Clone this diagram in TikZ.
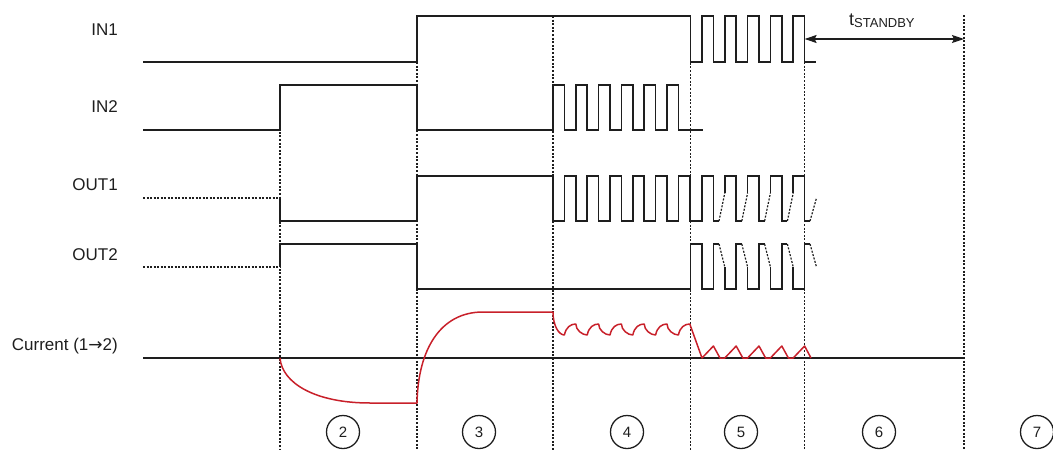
\documentclass[tikz,border=0pt]{standalone}
\usepackage{fontspec}
\setmainfont{Liberation Sans}
\newfontfamily\dejavu{DejaVu Sans}
\usetikzlibrary{arrows.meta}
\definecolor{sigc}{RGB}{30,30,30}
\definecolor{curc}{RGB}{200,32,42}
\begin{document}
\begin{tikzpicture}[x=1pt,y=-1pt,
  sig/.style={draw=sigc,line width=1.5pt,line join=miter},
  flo/.style={draw=sigc,line width=1.2pt,dash pattern=on 2pt off 1.5pt},
  guide/.style={draw=sigc,line width=1.1pt,dash pattern=on 2pt off 1.6pt},
  cur/.style={draw=curc,line width=1.5pt,line join=round},
  base/.style={draw=sigc,line width=1.8pt},
  lab/.style={anchor=east,font=\fontsize{17}{20}\selectfont,text=sigc,inner sep=0pt},
  phase/.style={circle,draw=sigc,line width=1.3pt,minimum size=33pt,inner sep=0pt,font=\fontsize{15}{17}\selectfont,text=sigc},
  dimarrow/.style={draw=sigc,line width=1.3pt,{Stealth[length=12pt,width=8pt,inset=2pt]}-{Stealth[length=12pt,width=8pt,inset=2pt]}}]
\useasboundingbox (0,0) rectangle (1053,450);

% phase guide lines
\foreach \x/\y in {280/85,417/62,553/16,690.5/16,804.6/62,964/15}
  \draw[guide] (\x,\y) -- (\x,450);

% labels
\node[lab] (lin1) at (118,30) {IN1};
\node[lab] (lin2) at (118,107) {IN2};
\node[lab] (lout1) at (118,185) {OUT1};
\node[lab] (lout2) at (118,255) {OUT2};
\node[lab] (lcur) at (118,346) {Current (1{\dejavu →}2)};

% IN1
\draw[sig] (143,62) -- (417,62) -- (417,16) -- (690.5,16) -- (690.5,62)
  \foreach \k in {0,...,4} { -- ({702+22.8*\k},62) -- ({702+22.8*\k},16) -- ({713.4+22.8*\k},16) -- ({713.4+22.8*\k},62) }
  -- (816,62);

% IN2
\draw[sig] (143,130) -- (280,130) -- (280,85) -- (417,85) -- (417,130) -- (553,130)
  \foreach \k in {0,...,5} { -- ({553+22.8*\k},130) -- ({553+22.8*\k},85) -- ({564.4+22.8*\k},85) -- ({564.4+22.8*\k},130) }
  -- (703,130);

% OUT1
\draw[flo] (143,198) -- (280,198);
\draw[sig] (280,198) -- (280,221) -- (417,221) -- (417,176) -- (553,176) -- (553,221)
  \foreach \k in {0,...,5} { -- ({564.4+22.8*\k},221) -- ({564.4+22.8*\k},176) -- ({575.8+22.8*\k},176) -- ({575.8+22.8*\k},221) }
  -- (702,221) -- (702,176) -- (713.4,176) -- (713.4,221) -- (719,221);
\foreach \k in {0,...,3} {
  \pgfmathsetmacro\f{713.4+22.8*\k}
  \draw[flo] ({\f+5.6},221) -- ({\f+11.4},193);
  \draw[sig] ({\f+11.4},193) -- ({\f+11.4},176) -- ({\f+22.8},176) -- ({\f+22.8},221) -- ({\f+28.4},221);
}
\draw[flo] (810,221) -- (816.5,198);

% OUT2
\draw[flo] (143,267) -- (280,267);
\draw[sig] (280,267) -- (280,244) -- (417,244) -- (417,289) -- (690.5,289) -- (690.5,244)
  -- (702,244) -- (702,289) -- (713.4,289) -- (713.4,244) -- (719,244);
\foreach \k in {0,...,3} {
  \pgfmathsetmacro\f{713.4+22.8*\k}
  \draw[flo] ({\f+5.6},244) -- ({\f+11.4},267);
  \draw[sig] ({\f+11.4},267) -- ({\f+11.4},289) -- ({\f+22.8},289) -- ({\f+22.8},244) -- ({\f+28.4},244);
}
\draw[flo] (810,244) -- (816.5,267);

% current
\draw[base] (143,358) -- (964,358);
\draw[cur] (280,358) .. controls (282,383) and (315,403) .. (370,403) -- (417,403)
  .. controls (418,350) and (440,312) .. (483,312) -- (553,312)
  .. controls (553,326) and (559,335) .. (564.4,335)
  \foreach \k in {1,...,5} {
    .. controls ({566+22.8*(\k-1)},327) and ({570.8+22.8*(\k-1)},324) .. ({575.8+22.8*(\k-1)},324)
    .. controls ({575.8+22.8*(\k-1)},330) and ({559.4+22.8*\k},335) .. ({564.4+22.8*\k},335)
  }
  .. controls (680,327) and (684.8,324) .. (689.8,324)
  -- (702,358) -- (713.4,346) -- (720,358) -- (724.8,358) -- (736.2,346) -- (742.8,358)
  -- (747.6,358) -- (759,346) -- (765.6,358) -- (770.4,358) -- (781.8,346) -- (788.4,358)
  -- (793.2,358) -- (804.6,346) -- (811,358);

% t_STANDBY
\coordinate (sbL) at (804.6,39);
\coordinate (sbR) at (964,39);
\draw[dimarrow] (sbL) -- (sbR);
\node[anchor=base west,inner sep=0pt,text=sigc,font=\fontsize{18}{20}\selectfont] (tsb) at (849,25)
  {t\raisebox{-2.5pt}{\fontsize{13}{15}\selectfont STANDBY}};

% phase numbers
\node[phase] (c2) at (343,432) {2};
\node[phase] (c3) at (479,432) {3};
\node[phase] (c4) at (627,432) {4};
\node[phase] (c5) at (741,432) {5};
\node[phase] (c6) at (879,432) {6};
\node[phase] (c7) at (1037,432) {7};
\end{tikzpicture}
\end{document}
